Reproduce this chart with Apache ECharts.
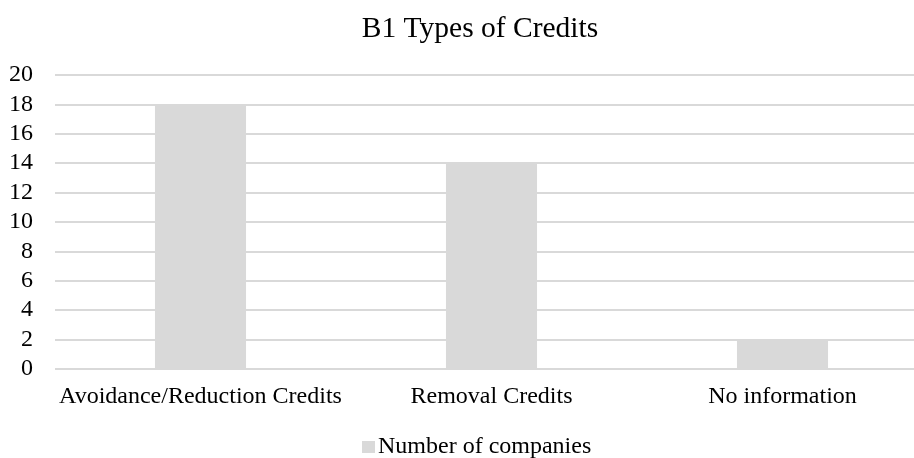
<!DOCTYPE html>
<html>
<head>
<meta charset="utf-8">
<script src="https://cdn.jsdelivr.net/npm/echarts@6/dist/echarts.min.js"></script>
<style>
  html, body { margin: 0; padding: 0; background: #fff; overflow: hidden; }
  /* plot area runs past the right edge in the original, so the canvas is a bit wider than the window */
  #chart { width: 928px; height: 458px; }
</style>
</head>
<body>
<div id="chart"></div>
<script>
// chart data
const categories = ["Avoidance/Reduction Credits", "Removal Credits", "No information"];
const companyCounts = [18, 14, 2];
const seriesName = "Number of companies";

const font = "'Liberation Serif', 'Times New Roman', serif";
const chart = echarts.init(document.getElementById("chart"));
chart.setOption({
  animation: false,
  textStyle: { fontFamily: font },
  title: {
    text: "B1 Types of Credits",
    left: 475,
    textAlign: "center",
    top: 9,
    textStyle: { fontFamily: font, fontSize: 29.5, fontWeight: "normal", color: "#000" },
  },
  legend: {
    top: 435,
    left: 362,
    itemWidth: 13,
    itemHeight: 12,
    itemGap: 4,
    padding: 0,
    selectedMode: false,
    icon: "rect",
    data: [seriesName],
    textStyle: { fontFamily: font, fontSize: 24, color: "#000", padding: [0, 0, 0, -2] },
  },
  grid: { left: 55, right: 0, top: 75, bottom: 89, containLabel: false },
  xAxis: {
    type: "category",
    data: categories,
    axisLine: { show: false },
    axisTick: { show: false },
    axisLabel: { fontFamily: font, fontSize: 24, color: "#000", margin: 16, interval: 0, hideOverlap: false },
  },
  yAxis: {
    type: "value",
    min: 0,
    max: 20,
    interval: 2,
    axisLine: { show: false },
    axisTick: { show: false },
    axisLabel: { fontFamily: font, fontSize: 24, color: "#000", margin: 22 },
    splitLine: { lineStyle: { color: "#d9d9d9", width: 2 } },
  },
  series: [
    {
      name: seriesName,
      type: "bar",
      data: companyCounts,
      barWidth: "31.3%",
      itemStyle: { color: "#d9d9d9" },
    },
  ],
});
</script>
</body>
</html>
